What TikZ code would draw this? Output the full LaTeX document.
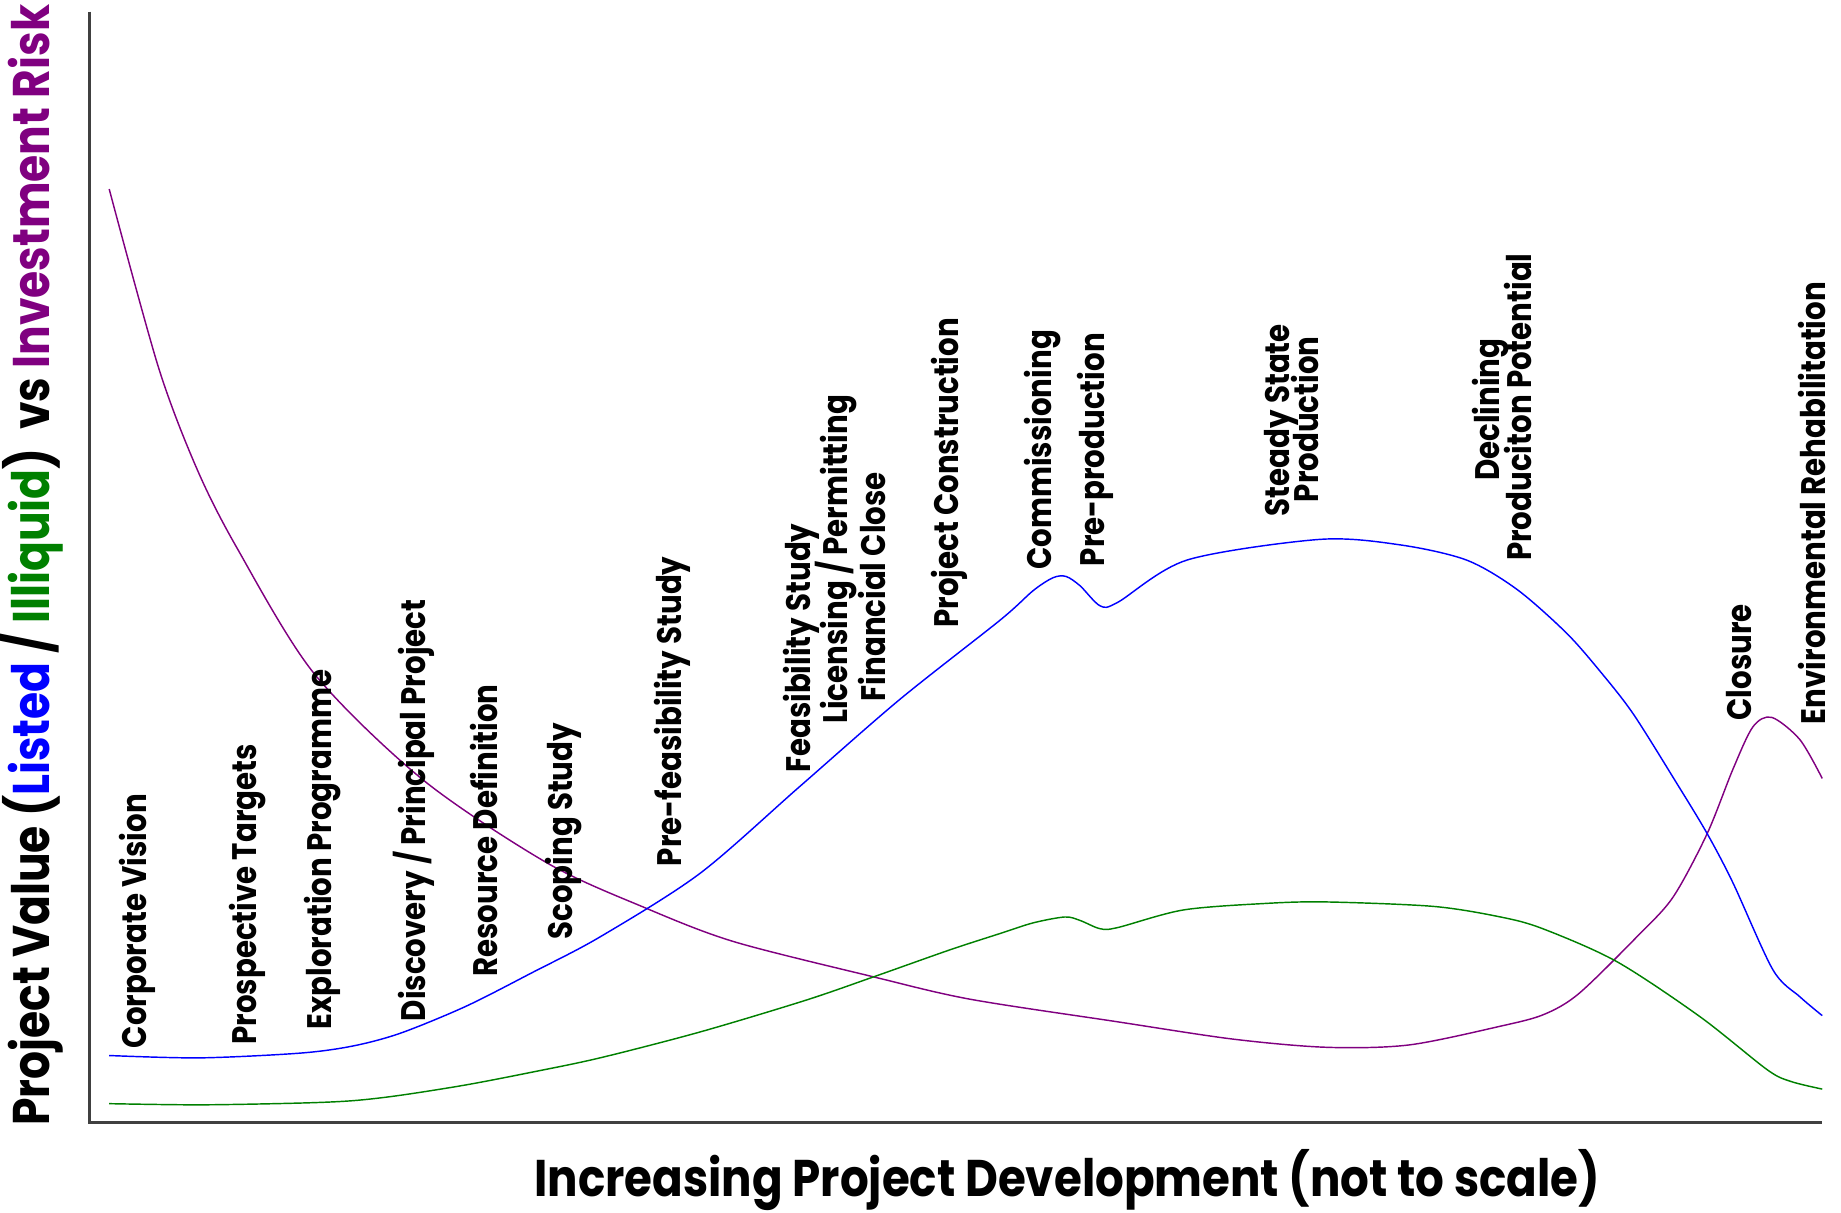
\documentclass[tikz,border=0pt]{standalone}
\usepackage{fontspec}
\usepackage{graphicx}
\setmainfont{Poppins}
\definecolor{cblue}{RGB}{0,0,255}
\definecolor{cgreen}{RGB}{0,128,0}
\definecolor{cpurple}{RGB}{128,0,128}
\definecolor{caxis}{RGB}{64,64,64}
\newcommand{\stg}[1]{\scalebox{0.86}[1]{#1}}
\tikzset{
  lab/.style={rotate=90, anchor=base west, inner sep=0pt, font=\bfseries\fontsize{16.5}{18}\selectfont},
  curve/.style={line width=0.7pt},
  axisline/.style={line width=1.3pt, draw=caxis}
}
\begin{document}
\begin{tikzpicture}[x=0.02cm, y=-0.02cm]
\useasboundingbox (0,0) rectangle (1568,1033);
% axes
\coordinate (top) at (76,10);
\coordinate (origin) at (76,956);
\coordinate (right) at (1552,956);
\draw[axisline] (top) -- (origin) -- (right);
% purple risk curve
\draw[curve, cpurple] plot[smooth, tension=0.5] coordinates {
(93,161) (135,313) (168,400) (202,467) (267,573) (360,664) (466,735) (549,773)
(625,802) (744,832) (826,851) (950,870) (1050,885) (1130,892) (1200,890)
(1278,874) (1315,864) (1345,846) (1395,797) (1425,764) (1454,710) (1476,655) (1493,619)
(1509,611) (1533,630) (1552,663)};
% blue listed curve
\draw[curve, cblue] plot[smooth, tension=0.5] coordinates {
(93,899) (170,901) (255,897) (300,891) (341,880) (397,857) (454,828) (511,798) (596,744) (681,670)
(766,596) (852,528) (880,503) (897,492) (908,491) (920,499) (937,516) (952,513)
(1011,477) (1124,459.4) (1192,464) (1249,477) (1292,502) (1334,539) (1363,572) (1391,608)
(1428,667) (1454,710) (1476,752) (1510,826) (1533,849) (1552,865)};
% green illiquid curve
\draw[curve, cgreen] plot[smooth, tension=0.5] coordinates {
(93,940) (170,941) (255,939.5) (300,937.5) (340,933) (397,924) (454,913) (511,901) (596,879) (686,852)
(744,832) (809,809) (852,795) (880,786) (907,781) (920,784) (937,791) (952,790)
(1008,775) (1079,769.4) (1130,768.2) (1221,772) (1278,781) (1314,791) (1377,819)
(1448,866) (1505,911) (1525,921) (1552,927.6)};
% stage labels
\node[lab] (l1) at (125,893) {\stg{Corporate Vision}};
\node[lab] (l2) at (218.6,890) {\stg{Prospective Targets}};
\node[lab] (l3) at (282.5,877) {\stg{Exploration Programme}};
\node[lab] (l4) at (362,870) {\stg{Discovery / Principal Project}};
\node[lab] (l5) at (424,832) {\stg{Resource Definition}};
\node[lab] (l6) at (488,800.6) {\stg{Scoping Study}};
\node[lab] (l7) at (580.6,738) {\stg{Pre-feasibility Study}};
\node[lab] (l8) at (690.5,658.6) {\stg{Feasibility Study}};
\node[lab] (l9) at (721.7,616.7) {\stg{Licensing / Permitting}};
\node[lab] (l10) at (753.8,597.6) {\stg{Financial Close}};
\node[lab] (l11) at (816.2,535) {\stg{Project Construction}};
\node[lab] (l12) at (895.7,485.5) {\stg{Commissioning}};
\node[lab] (l13) at (941.1,482.6) {\stg{Pre-production}};
\node[lab] (l14) at (1098,440) {\stg{Steady State}};
\node[lab] (l15) at (1123,428) {\stg{Production}};
\node[lab] (l16) at (1277,410) {\stg{Declining}};
\node[lab] (l17) at (1304,478) {\stg{Produciton Potential}};
\node[lab] (l18) at (1492,614) {\stg{Closure}};
\node[lab] (l19) at (1555,617) {\stg{Environmental Rehabilitation}};
% axis titles
\node[rotate=90, anchor=base, inner sep=0pt, font=\bfseries\fontsize{25}{28}\selectfont] (ytitle) at (42,481.5)
  {\resizebox{19.1cm}{\height}{Project Value (\textcolor{cblue}{Listed} / \textcolor{cgreen}{Illiquid})\ \ vs \textcolor{cpurple}{Investment Risk}}};
\node[anchor=base, inner sep=0pt, font=\bfseries\fontsize{25}{28}\selectfont] (xtitle) at (909,1019)
  {\resizebox{18.16cm}{\height}{Increasing Project Development (not to scale)}};
\end{tikzpicture}
\end{document}
